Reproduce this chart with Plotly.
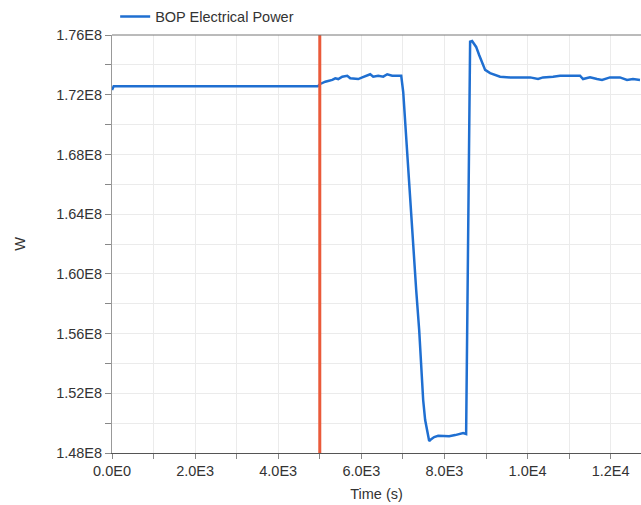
import plotly.graph_objects as go

time_s = [0, 40, 4950,
          5012, 5133, 5301, 5373, 5445, 5541, 5661, 5733, 5806, 5926, 6022, 6142, 6214, 6286,
          6406, 6527, 6623, 6743, 6863, 6960,
          7008, 7056, 7104, 7152, 7200, 7248, 7320, 7392, 7440, 7488, 7536, 7584, 7633,
          7681, 7753, 7849, 7993, 8113, 8258, 8378, 8450, 8522,
          8546, 8594, 8618, 8666,
          8763, 8835, 8907, 8979, 9099, 9219,
          9339, 9580, 9820, 10061, 10253, 10373, 10614, 10782, 10951, 11263, 11335,
          11503, 11672, 11792, 11984, 12224, 12393, 12537, 12706]
power_w = [1.7231e8, 1.7256e8, 1.7256e8,
           1.7272e8, 1.7287e8, 1.7299e8, 1.7310e8, 1.7305e8, 1.7321e8, 1.7327e8, 1.7310e8,
           1.7310e8, 1.7305e8, 1.7316e8, 1.7327e8, 1.7337e8, 1.7321e8,
           1.7327e8, 1.7321e8, 1.7337e8, 1.7327e8, 1.7327e8, 1.7327e8,
           1.7218e8, 1.7010e8, 1.6783e8, 1.6562e8, 1.6374e8, 1.6160e8, 1.5892e8, 1.5624e8,
           1.5356e8, 1.5155e8, 1.5021e8, 1.4954e8, 1.4880e8,
           1.4893e8, 1.4907e8, 1.4915e8, 1.4913e8, 1.4913e8, 1.4920e8, 1.4927e8, 1.4933e8, 1.4927e8,
           1.5704e8, 1.6736e8, 1.7555e8, 1.7560e8,
           1.7520e8, 1.7466e8, 1.7419e8, 1.7366e8, 1.7345e8, 1.7335e8,
           1.7321e8, 1.7316e8, 1.7314e8, 1.7316e8, 1.7305e8, 1.7316e8, 1.7321e8, 1.7327e8,
           1.7327e8, 1.7327e8, 1.7305e8,
           1.7316e8, 1.7305e8, 1.7299e8, 1.7316e8, 1.7316e8, 1.7299e8, 1.7305e8, 1.7299e8]

event_time = 5000
series_name = "BOP Electrical Power"

x_tickvals = [0, 1000, 2000, 3000, 4000, 5000, 6000, 7000, 8000, 9000, 10000, 11000, 12000]
x_ticktext = ["0.0E0", "", "2.0E3", "", "4.0E3", "", "6.0E3", "", "8.0E3", "", "1.0E4", "", "1.2E4"]
y_tickvals = [1.48e8, 1.50e8, 1.52e8, 1.54e8, 1.56e8, 1.58e8, 1.60e8, 1.62e8, 1.64e8,
              1.66e8, 1.68e8, 1.70e8, 1.72e8, 1.74e8, 1.76e8]
y_ticktext = ["1.48E8", "", "1.52E8", "", "1.56E8", "", "1.60E8", "", "1.64E8",
              "", "1.68E8", "", "1.72E8", "", "1.76E8"]

font_family = "Liberation Sans, Arial, sans-serif"
fs = 14.5

fig = go.Figure()
fig.add_trace(go.Scatter(x=time_s, y=power_w, mode="lines", name=series_name,
                         line=dict(color="#1f6fd1", width=2.5)))
fig.add_shape(type="line", xref="x", yref="paper", x0=event_time, x1=event_time, y0=0, y1=1,
              line=dict(color="#ea5a3a", width=3))

fig.update_layout(
    width=641, height=505,
    margin=dict(l=112, r=0, t=35, b=52),
    paper_bgcolor="white", plot_bgcolor="white",
    font=dict(family=font_family, size=fs, color="#333333"),
    showlegend=True,
    legend=dict(orientation="h", x=0.006, xanchor="left", y=1.006, yanchor="bottom",
                font=dict(size=fs, color="#333333"), bgcolor="rgba(0,0,0,0)"),
)
fig.update_xaxes(range=[0, 12730], tickmode="array", tickvals=x_tickvals, ticktext=x_ticktext,
                 ticks="outside", ticklen=5, tickcolor="#888888",
                 showgrid=True, gridcolor="#ebebeb", gridwidth=1,
                 showline=True, linecolor="#555555", linewidth=1, mirror=False,
                 zeroline=False, title=dict(text="Time (s)", standoff=10, font=dict(size=fs)),
                 tickfont=dict(size=fs))
fig.update_yaxes(range=[1.48e8, 1.76e8], tickmode="array", tickvals=y_tickvals, ticktext=y_ticktext,
                 ticks="outside", ticklen=6, tickcolor="#888888",
                 showgrid=True, gridcolor="#ebebeb", gridwidth=1,
                 showline=True, linecolor="#999999", linewidth=1,
                 zeroline=False, title=dict(text="W", standoff=27, font=dict(size=fs)),
                 tickfont=dict(size=fs))
fig.add_shape(type="line", xref="paper", yref="paper", x0=0, x1=1, y0=1, y1=1,
              line=dict(color="#777777", width=1))

fig.write_html("out.html")
